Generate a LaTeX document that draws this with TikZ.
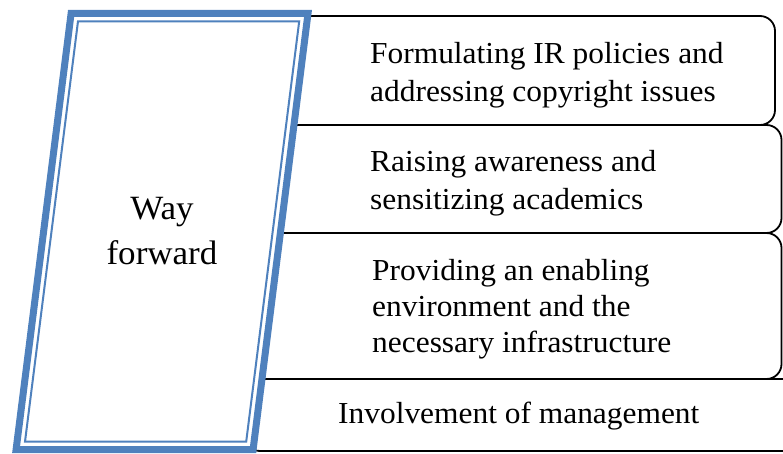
\documentclass[tikz,border=0pt]{standalone}
\usepackage{fontspec}
\setmainfont{Liberation Serif}[FakeStretch=1.03]
\definecolor{frameblue}{HTML}{4F81BD}
\begin{document}
\begin{tikzpicture}[x=1pt,y=-1pt,
  stepbox/.style={draw=black,line width=1.8pt,fill=white,rounded corners=15pt},
  itemtext/.style={anchor=base west,inner sep=0pt,align=left,
    font=\fontsize{30.5}{38}\selectfont},
  headtext/.style={anchor=base,inner sep=0pt,align=center,
    font=\fontsize{34}{45}\selectfont},
  outerframe/.style={draw=frameblue,line width=7pt,fill=white,line join=miter},
  innerframe/.style={draw=frameblue,line width=2pt,line join=miter}]
\useasboundingbox (0,0) rectangle (783,454);
\clip (0,0) rectangle (783,454);

% stacked boxes, their left ends tucked behind the frame
\draw[stepbox] (245,16) rectangle (775,125);
\draw[stepbox] (245,125) rectangle (781.5,233);
\draw[stepbox] (252,233) rectangle (781.5,379);
\draw[stepbox] (245,379) rectangle (800,451);

% slanted double frame
\draw[outerframe] (71.1,13.5) -- (308.0,13.5) -- (253.1,449.5) -- (16.1,449.5) -- cycle;
\draw[innerframe] (78.0,21.3) -- (299.2,21.3) -- (246.2,441.7) -- (25.0,441.7) -- cycle;

% labels are placed on the baseline of their last line
\node[headtext] (way) at (162,264) {Way\\forward};

\node[itemtext] (policies) at (370,102) {Formulating IR policies and\\addressing copyright issues};
\node[itemtext] (awareness) at (370,210) {Raising awareness and\\sensitizing academics};
\node[itemtext,font=\fontsize{30.5}{36}\selectfont] (infra) at (372,352) {Providing an enabling\\environment and the\\necessary infrastructure};
\node[itemtext] (management) at (338,423) {Involvement of management};
\end{tikzpicture}
\end{document}
